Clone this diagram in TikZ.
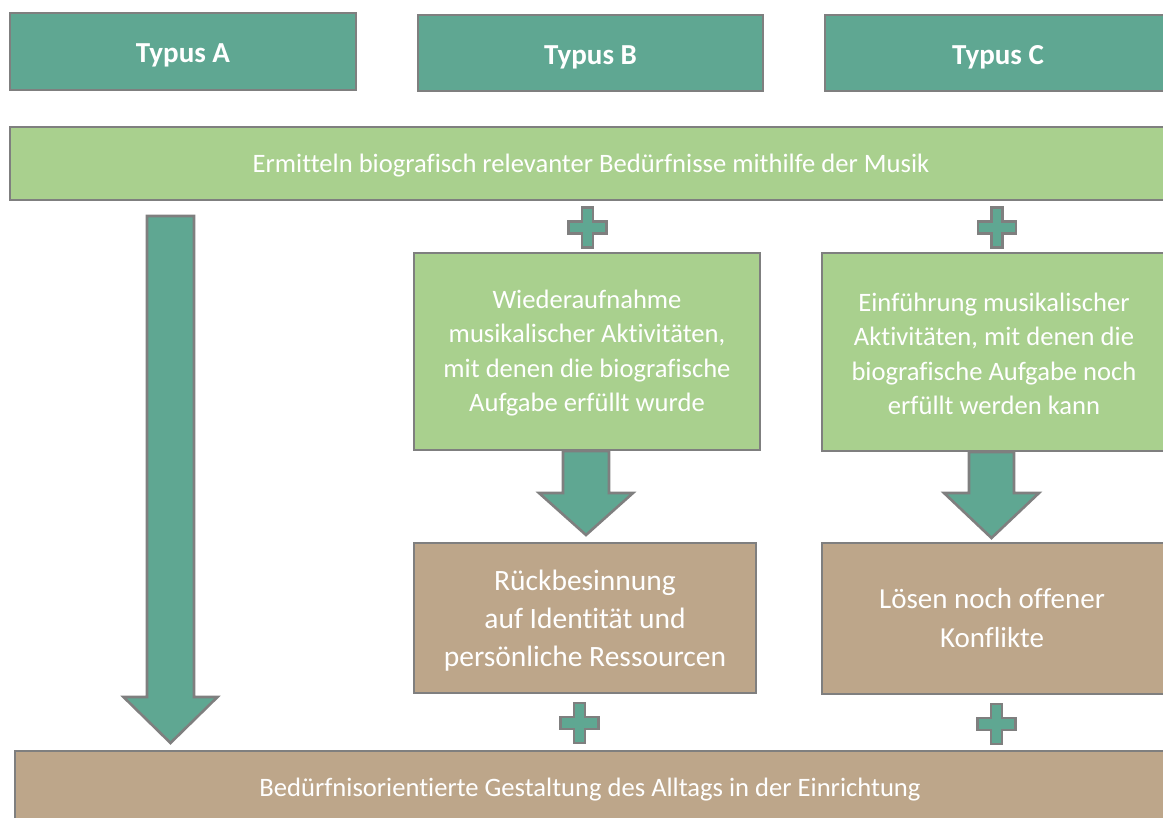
\documentclass[tikz,border=0pt]{standalone}
\usepackage{fontspec}
\setmainfont{Carlito}[Ligatures={NoCommon}]
\definecolor{teal}{HTML}{5FA792}
\definecolor{lgreen}{HTML}{A9D08E}
\definecolor{tan}{HTML}{BDA68A}
\definecolor{bordergray}{HTML}{7F7F7F}
\tikzset{
  box/.style={draw=bordergray, line width=2.6pt, text=white, align=center, inner sep=0pt,
    font=\fontsize{26.6}{34.5}\selectfont},
  typebox/.style={box, fill=teal, font=\bfseries\fontsize{29}{35}\selectfont},
  greenbox/.style={box, fill=lgreen},
  tanbox/.style={box, fill=tan},
  label/.style={text=white, inner sep=0pt, align=center},
  blockshape/.style={draw=bordergray, line width=2.6pt, fill=teal, line join=miter},
}
% block arrow: centre x, top y, head base y, tip y, shaft half width, head half width
\newcommand\blockarrow[6]{%
  \draw[blockshape] (#1-#5,#2) -- (#1+#5,#2) -- (#1+#5,#3) -- (#1+#6,#3) -- (#1,#4)
    -- (#1-#6,#3) -- (#1-#5,#3) -- cycle;}
% plus sign: centre x, centre y
\newcommand\plussign[2]{%
  \draw[blockshape, line width=2.2pt] (#1-5.5,#2-20) -- (#1+5.5,#2-20) -- (#1+5.5,#2-6) -- (#1+19,#2-6)
    -- (#1+19,#2+6) -- (#1+5.5,#2+6) -- (#1+5.5,#2+20) -- (#1-5.5,#2+20) -- (#1-5.5,#2+6)
    -- (#1-19,#2+6) -- (#1-19,#2-6) -- (#1-5.5,#2-6) -- cycle;}
\begin{document}
\begin{tikzpicture}[x=1pt,y=-1pt]
\useasboundingbox (0,0) rectangle (1163,818);
\begin{scope}
\clip (0,0) rectangle (1163,818);
% type headers
\node[typebox, minimum width=346pt, minimum height=77pt] (tA) at (183,51.5) {};
\node[label, font=\bfseries\fontsize{29}{35}\selectfont] (tAt) at (183,55.5) {Typus A};
\node[typebox, minimum width=345pt, minimum height=76pt] (tB) at (590.5,53) {};
\node[label, font=\bfseries\fontsize{29}{35}\selectfont] (tBt) at (590.5,57) {Typus B};
\node[typebox, minimum width=346pt, minimum height=76pt] (tC) at (998,53) {};
\node[label, font=\bfseries\fontsize{29}{35}\selectfont] (tCt) at (998,57) {Typus C};
% top band
\node[greenbox, minimum width=1161pt, minimum height=73pt] (band1) at (590.5,163.5) {};
\node[label, font=\fontsize{26.6}{35}\selectfont] (band1t) at (591,166) {Ermitteln biografisch relevanter Bedürfnisse mithilfe der Musik};
% middle boxes
\node[greenbox, minimum width=346pt, minimum height=197pt] (gB) at (587,351.5) {};
\node[label, font=\fontsize{26.6}{34.5}\selectfont] (gBt) at (587,353) {Wiederaufnahme\\musikalischer Aktivitäten,\\mit denen die biografische\\Aufgabe erfüllt wurde};
\node[greenbox, minimum width=345pt, minimum height=198pt] (gC) at (994.5,352) {};
\node[label, font=\fontsize{26.6}{34.5}\selectfont] (gCt) at (994,354) {Einführung musikalischer\\Aktivitäten, mit denen die\\biografische Aufgabe noch\\erfüllt werden kann};
\node[tanbox, minimum width=342pt, minimum height=150pt] (bB) at (585,618) {};
\node[label, font=\fontsize{29.5}{38}\selectfont] (bBt) at (585,621) {Rückbesinnung\\auf Identität und\\persönliche Ressourcen};
\node[tanbox, minimum width=345pt, minimum height=151pt] (bC) at (994.5,618.5) {};
\node[label, font=\fontsize{29}{39}\selectfont] (bCt) at (992,618) {Lösen noch offener\\Konflikte};
% bottom band
\node[tanbox, minimum width=1152pt, minimum height=74pt] (band2) at (591,788) {};
\node[label, font=\fontsize{26.6}{35}\selectfont] (band2t) at (590,790) {Bedürfnisorientierte Gestaltung des Alltags in der Einrichtung};
% block arrows
\blockarrow{170.5}{216}{697}{743}{23.5}{47}
\blockarrow{586}{451}{493}{535}{23}{47}
\blockarrow{991.5}{452}{493}{538}{22.5}{47.5}
% plus signs
\plussign{587.5}{227.5}
\plussign{997}{227.5}
\plussign{579.5}{723}
\plussign{996.5}{724}
\end{scope}
\end{tikzpicture}
\end{document}
